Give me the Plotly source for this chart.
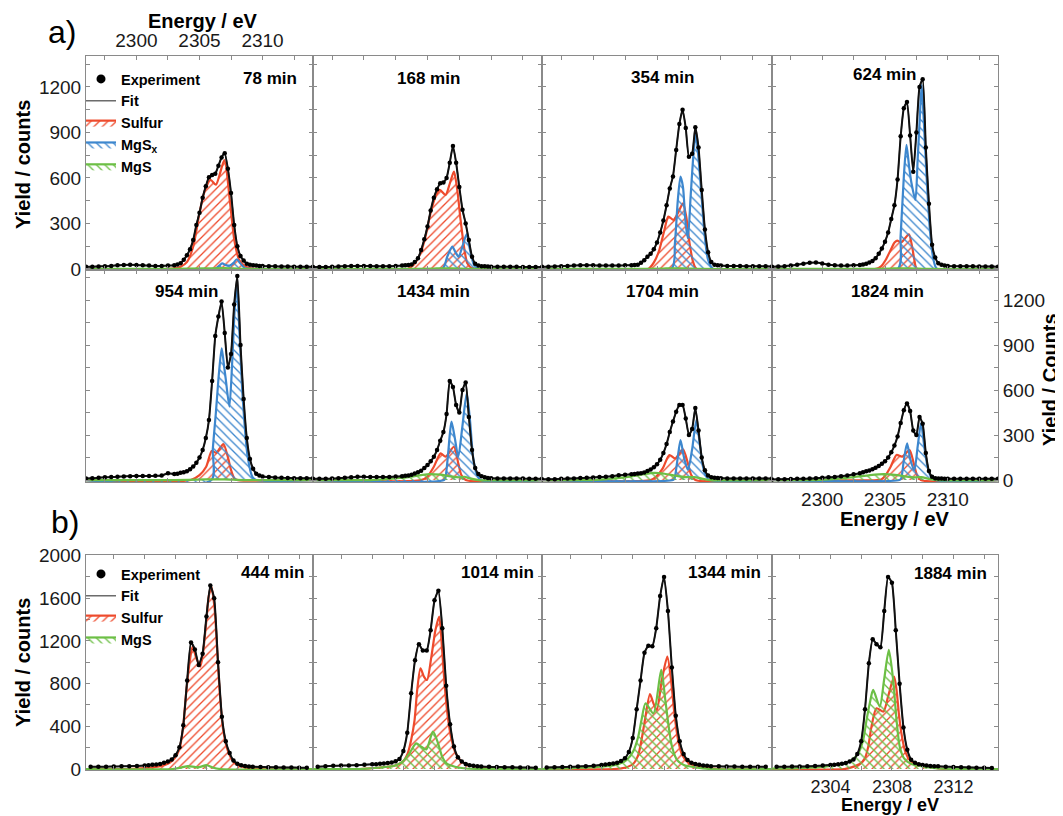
import plotly.graph_objects as go

# ======================= DATA =======================
# energy grids of the measured spectra (eV)
E_A = [2296.0, 2296.5, 2297.0, 2297.5, 2298.0, 2298.5, 2299.0, 2299.5, 2300.0, 2300.5,
       2301.0, 2301.5, 2302.0, 2302.5, 2303.0,
       2303.25, 2303.5, 2303.75, 2304.0, 2304.25, 2304.5, 2304.75, 2305.0, 2305.25, 2305.5,
       2305.75, 2306.0, 2306.25, 2306.5, 2306.75, 2307.0, 2307.25, 2307.5, 2307.75, 2308.0,
       2308.25, 2308.5, 2308.75, 2309.0, 2309.25, 2309.5, 2309.75, 2310.0,
       2310.5, 2311.0, 2311.5, 2312.0, 2312.5, 2313.0, 2313.5, 2314.0]
E_B = [2300.5, 2301.0, 2301.5, 2302.0, 2302.5, 2303.0, 2303.5, 2304.0,
       2304.25, 2304.5, 2304.75, 2305.0, 2305.25, 2305.5, 2305.75, 2306.0, 2306.25, 2306.5,
       2306.75, 2307.0, 2307.25, 2307.5, 2307.75, 2308.0, 2308.25, 2308.5, 2308.75, 2309.0,
       2309.25, 2309.5, 2309.75, 2310.0, 2310.25, 2310.5, 2310.75, 2311.0,
       2311.5, 2312.0, 2312.5, 2313.0, 2313.5, 2314.0, 2314.5]

# experiment (counts) on E_A -- part a)
EXP_78 = [14, 15, 16, 18, 20, 24, 26, 27, 26, 24, 22, 20, 20, 22, 25,
          30, 38, 60, 90, 130, 190, 290, 370, 470, 545, 605, 620, 628, 680, 735, 762, 660, 500,
          290, 150, 85, 55, 35, 28, 24, 22, 20, 19,
          18, 17, 16, 16, 15, 15, 14, 14]
EXP_168 = [12, 12, 13, 14, 16, 18, 20, 20, 20, 19, 18, 18, 18, 20, 22,
           24, 26, 30, 45, 70, 125, 195, 280, 385, 470, 525, 565, 570, 600, 700, 810, 700, 540,
           390, 300, 190, 80, 35, 22, 18, 17, 16, 15,
           15, 14, 14, 14, 13, 13, 13, 13]
EXP_354 = [15, 15, 16, 18, 20, 22, 24, 24, 24, 22, 22, 22, 22, 24, 25,
           26, 28, 40, 58, 80, 100, 130, 175, 240, 320, 420, 530, 610, 785, 955, 1050, 930, 740,
           760, 935, 800, 520, 260, 110, 45, 28, 24, 22,
           20, 20, 19, 18, 18, 17, 17, 16]
EXP_624 = [15, 16, 18, 22, 28, 34, 40, 42, 36, 28, 24, 22, 22, 24, 26,
           30, 35, 42, 52, 70, 100, 135, 180, 240, 330, 420, 590, 875, 1060, 1100, 880, 640, 900,
           1200, 1250, 800, 430, 160, 75, 38, 28, 22, 20,
           18, 18, 17, 17, 16, 16, 16, 15]
EXP_954 = [11, 12, 15, 18, 20, 22, 24, 26, 27, 27, 27, 28, 30, 45, 40,
           42, 48, 52, 58, 72, 90, 115, 150, 200, 280, 400, 660, 960, 1090, 1190, 980, 750, 840,
           1170, 1360, 900, 540, 280, 140, 75, 42, 30, 24,
           20, 17, 15, 14, 12, 12, 12, 12]
EXP_1434 = [8, 8, 9, 10, 12, 15, 18, 22, 22, 20, 20, 20, 21, 23, 26,
            28, 31, 36, 44, 52, 62, 80, 100, 125, 156, 200, 262, 320, 440, 660, 620, 500, 450,
            600, 650, 420, 200, 80, 40, 25, 18, 14, 12,
            11, 10, 10, 10, 10, 9, 9, 9]
EXP_1704 = [5, 5, 6, 8, 10, 11, 13, 15, 17, 20, 22, 26, 32, 35, 38,
            40, 43, 46, 50, 60, 70, 85, 105, 135, 180, 240, 320, 390, 455, 500, 500, 410, 300,
            340, 480, 330, 150, 65, 30, 18, 15, 13, 12,
            11, 10, 10, 10, 10, 10, 10, 10]
EXP_1824 = [4, 5, 6, 7, 8, 9, 10, 12, 15, 18, 21, 25, 30, 38, 45,
            52, 58, 64, 72, 82, 94, 108, 125, 150, 185, 230, 290, 380, 465, 510, 460, 330, 300,
            420, 375, 180, 60, 22, 12, 10, 10, 9, 9,
            9, 9, 9, 8, 8, 8, 8, 8]

# experiment (counts) on E_B -- part b)
EXP_444 = [22, 22, 22, 24, 25, 27, 29, 33,
           36, 40, 43, 48, 58, 70, 90, 130, 205, 410, 830, 1185, 1120, 975, 1080, 1430, 1720,
           1600, 1000, 490, 260, 150, 80, 50, 35, 28, 24, 21,
           19, 17, 16, 15, 14, 13, 12]
EXP_1014 = [22, 27, 30, 32, 34, 36, 40, 44,
            46, 50, 53, 56, 62, 72, 95, 170, 340, 710, 1020, 1170, 1110, 1110, 1300, 1580, 1670,
            1320, 780, 420, 210, 110, 70, 48, 36, 30, 26, 24,
            21, 19, 17, 16, 15, 14, 13]
EXP_1344 = [14, 16, 19, 21, 24, 26, 30, 38,
            42, 47, 52, 58, 75, 100, 160, 290, 560, 830, 1090, 1155, 1150, 1320, 1620, 1800, 1480,
            950, 500, 260, 140, 85, 60, 48, 40, 34, 30, 27,
            25, 24, 23, 22, 22, 22, 22]
EXP_1884 = [22, 22, 23, 24, 25, 28, 32, 38,
            41, 44, 50, 57, 70, 90, 140, 260, 560, 990, 1215, 1170, 1140, 1480, 1800, 1745, 1300,
            800, 390, 180, 88, 58, 45, 38, 33, 29, 27, 25,
            22, 20, 17, 15, 13, 11, 10]

# fitted components: energies (eV) and yields (counts) read at key points
S78_E = [2296, 2302.5, 2303.5, 2304.0, 2304.5, 2305.0, 2305.4, 2305.87, 2306.3, 2306.97, 2307.4, 2307.76, 2308.15, 2308.7, 2309.5, 2314]
S78_Y = [0, 0, 15, 45, 147, 369, 510, 587, 555, 718, 455, 191, 59, 15, 0, 0]
X78_E = [2296, 2306.2, 2306.55, 2306.8, 2307.1, 2307.4, 2307.7, 2307.95, 2308.25, 2308.6, 2309.0, 2314]
X78_Y = [0, 0, 20, 37, 25, 22, 40, 64, 35, 5, 0, 0]
M78_E = [2296, 2303.0, 2305.5, 2307.0, 2308.5, 2314]
M78_Y = [0, 0, 4, 6, 0, 0]

S168_E = [2296, 2303.4, 2303.9, 2304.45, 2304.84, 2305.24, 2305.63, 2305.97, 2306.42, 2306.76, 2307.08, 2307.34, 2307.6, 2307.87, 2308.13, 2308.5, 2309.0, 2314]
S168_Y = [0, 0, 26, 103, 213, 367, 477, 521, 488, 565, 642, 521, 323, 147, 37, 4, 0, 0]
X168_E = [2296, 2306.16, 2306.55, 2306.95, 2307.2, 2307.45, 2307.66, 2308.08, 2308.34, 2308.66, 2309.05, 2314]
X168_Y = [0, 0, 81, 147, 110, 80, 125, 229, 125, 26, 0, 0]
M168_E = [2296, 2303.0, 2305.5, 2307.0, 2308.5, 2314]
M168_Y = [0, 0, 3, 4, 0, 0]

S354_E = [2296, 2304.3, 2304.79, 2305.18, 2305.58, 2305.89, 2306.29, 2306.63, 2307.03, 2307.29, 2307.55, 2307.82, 2308.1, 2314]
S354_Y = [0, 0, 48, 125, 257, 345, 323, 367, 433, 345, 169, 48, 0, 0]
X354_E = [2296, 2306.13, 2306.4, 2306.63, 2306.84, 2307.03, 2307.24, 2307.42, 2307.63, 2307.84, 2308.03, 2308.21, 2308.47, 2308.74, 2309.0, 2309.4, 2314]
X354_Y = [0, 0, 169, 455, 609, 543, 301, 202, 477, 741, 894, 763, 499, 213, 59, 0, 0]
M354_E = [2296, 2303.0, 2305.5, 2307.0, 2308.5, 2314]
M354_Y = [0, 0, 3, 4, 0, 0]

S624_E = [2296, 2304.3, 2304.66, 2305.05, 2305.45, 2305.76, 2305.97, 2306.3, 2306.9, 2307.16, 2307.34, 2307.55, 2314]
S624_Y = [0, 0, 15, 59, 125, 174, 187, 176, 228, 147, 59, 0, 0]
X624_E = [2296, 2306.02, 2306.24, 2306.5, 2306.71, 2306.9, 2307.1, 2307.42, 2307.6, 2307.78, 2307.92, 2308.1, 2308.34, 2308.6, 2308.87, 2309.15, 2314]
X624_Y = [0, 0, 213, 609, 818, 690, 570, 455, 720, 1010, 1213, 960, 565, 235, 59, 0, 0]
M624_E = [2296, 2303.0, 2305.5, 2307.0, 2308.5, 2314]
M624_Y = [0, 0, 3, 4, 0, 0]

S954_E = [2296, 2304.3, 2305.0, 2305.53, 2305.97, 2306.32, 2306.89, 2307.24, 2307.5, 2307.76, 2308.05, 2314]
S954_Y = [0, 0, 33, 89, 193, 182, 240, 156, 67, 11, 0, 0]
X954_E = [2296, 2305.95, 2306.05, 2306.3, 2306.55, 2306.76, 2306.95, 2307.08, 2307.37, 2307.6, 2307.8, 2307.97, 2308.16, 2308.42, 2308.82, 2309.2, 2309.5, 2314]
X954_Y = [0, 0, 200, 450, 720, 878, 760, 674, 489, 800, 1150, 1300, 1000, 556, 156, 20, 0, 0]
M954_E = [2296, 2303.0, 2305.5, 2307.0, 2308.5, 2314]
M954_Y = [0, 0, 4, 5, 0, 0]

S1434_E = [2296, 2304.5, 2304.97, 2305.5, 2306.03, 2306.42, 2307.08, 2307.42, 2307.66, 2308.0, 2314]
S1434_Y = [0, 0, 22, 89, 178, 156, 222, 111, 33, 0, 0]
X1434_E = [2296, 2306.3, 2306.42, 2306.6, 2306.76, 2306.89, 2307.13, 2307.42, 2307.74, 2308.08, 2308.34, 2308.58, 2308.84, 2309.18, 2314]
X1434_Y = [0, 0, 22, 156, 311, 389, 289, 156, 356, 578, 400, 156, 44, 0, 0]
M1434_E = [2296, 2300.5, 2302.0, 2303.5, 2304.5, 2305.2, 2306.0, 2306.8, 2307.5, 2307.9, 2308.3, 2309.0, 2314]
M1434_Y = [0, 0, 8, 20, 33, 40, 36, 25, 18, 22, 12, 0, 0]

S1704_E = [2296, 2304.5, 2304.92, 2305.45, 2305.97, 2306.42, 2307.03, 2307.42, 2307.68, 2308.0, 2314]
S1704_Y = [0, 0, 22, 78, 167, 144, 204, 111, 33, 0, 0]
X1704_E = [2296, 2306.25, 2306.37, 2306.58, 2306.84, 2307.1, 2307.42, 2307.74, 2308.08, 2308.34, 2308.6, 2308.87, 2309.13, 2314]
X1704_Y = [0, 0, 11, 122, 267, 156, 67, 200, 400, 244, 89, 22, 0, 0]
M1704_E = [2296, 2299.8, 2301.5, 2303.0, 2304.0, 2304.8, 2305.6, 2306.4, 2307.2, 2307.9, 2308.6, 2309.2, 2314]
M1704_Y = [0, 0, 10, 25, 40, 48, 42, 30, 20, 20, 8, 0, 0]

S1824_E = [2296, 2304.4, 2304.71, 2305.05, 2305.45, 2305.92, 2306.37, 2306.95, 2307.29, 2307.55, 2307.85, 2314]
S1824_Y = [0, 0, 4, 33, 89, 167, 156, 200, 111, 33, 0, 0]
X1824_E = [2296, 2306.15, 2306.29, 2306.5, 2306.76, 2307.03, 2307.34, 2307.6, 2307.87, 2308.13, 2308.39, 2308.66, 2308.95, 2314]
X1824_Y = [0, 0, 11, 133, 244, 133, 67, 222, 378, 222, 89, 22, 0, 0]
M1824_E = [2296, 2299.5, 2301.0, 2302.5, 2303.8, 2304.9, 2305.8, 2306.6, 2307.4, 2307.9, 2308.5, 2309.2, 2314]
M1824_Y = [0, 0, 8, 20, 33, 40, 35, 25, 18, 20, 8, 0, 0]

S444_E = [2300.2, 2303.0, 2304.0, 2304.85, 2305.5, 2305.94, 2306.26, 2306.48, 2306.69, 2306.91, 2307.1, 2307.34, 2307.6, 2307.78, 2308.0, 2308.15, 2308.32, 2308.53, 2308.7, 2308.86, 2309.07, 2309.4, 2309.83, 2310.5, 2311.5, 2314.9]
S444_Y = [0, 0, 8, 22, 50, 100, 190, 380, 720, 1000, 1147, 1040, 959, 1090, 1400, 1620, 1709, 1500, 1100, 720, 380, 165, 55, 15, 0, 0]
M444_E = [2300.2, 2305.8, 2306.4, 2306.8, 2307.3, 2307.6, 2308.0, 2308.4, 2308.9, 2314.9]
M444_Y = [0, 0, 15, 28, 18, 20, 37, 15, 0, 0]

S1014_E = [2300.2, 2303.2, 2304.33, 2305.42, 2305.96, 2306.28, 2306.5, 2306.72, 2306.89, 2307.1, 2307.32, 2307.52, 2307.8, 2308.06, 2308.3, 2308.49, 2308.66, 2308.88, 2309.1, 2309.36, 2309.75, 2310.4, 2311.7, 2313.0, 2314.9]
S1014_Y = [0, 0, 12, 31, 69, 147, 272, 459, 741, 944, 866, 834, 1053, 1303, 1428, 1116, 772, 459, 272, 147, 69, 31, 12, 0, 0]
M1014_E = [2300.2, 2303.2, 2304.33, 2305.42, 2305.96, 2306.39, 2306.82, 2307.15, 2307.47, 2307.9, 2308.23, 2308.49, 2308.77, 2309.31, 2310.0, 2314.9]
M1014_Y = [0, 0, 12, 31, 69, 147, 241, 209, 184, 350, 241, 116, 53, 22, 5, 0]

S1344_E = [2300.2, 2304.8, 2305.48, 2306.02, 2306.35, 2306.56, 2306.78, 2307.1, 2307.32, 2307.54, 2307.86, 2308.21, 2308.47, 2308.66, 2308.9, 2309.16, 2309.6, 2310.25, 2311.5, 2314.9]
S1344_Y = [0, 0, 12, 47, 131, 272, 459, 703, 616, 553, 834, 1053, 803, 522, 272, 131, 53, 22, 0, 0]
M1344_E = [2300.2, 2302.23, 2303.97, 2305.05, 2305.59, 2306.02, 2306.35, 2306.56, 2306.82, 2307.32, 2307.82, 2308.08, 2308.3, 2308.51, 2308.84, 2309.27, 2310.03, 2311.0, 2314.9]
M1344_Y = [0, 9, 22, 44, 84, 163, 303, 459, 616, 522, 928, 647, 397, 209, 84, 38, 16, 0, 0]

S1884_E = [2300.2, 2304.9, 2305.37, 2305.91, 2306.24, 2306.46, 2306.67, 2307.0, 2307.45, 2307.75, 2308.14, 2308.3, 2308.45, 2308.62, 2308.84, 2309.16, 2309.7, 2310.57, 2311.5, 2314.9]
S1884_Y = [0, 0, 16, 47, 100, 209, 397, 569, 538, 678, 866, 741, 522, 334, 178, 84, 38, 16, 0, 0]
M1884_E = [2300.2, 2301.91, 2303.64, 2304.72, 2305.37, 2305.81, 2306.13, 2306.35, 2306.56, 2306.78, 2307.21, 2307.49, 2307.8, 2308.08, 2308.3, 2308.51, 2308.79, 2309.27, 2310.13, 2311.0, 2314.9]
M1884_Y = [3, 9, 22, 47, 84, 147, 272, 459, 616, 741, 584, 834, 1116, 834, 459, 209, 100, 47, 22, 5, 0]

LABELS_A = ["78 min", "168 min", "354 min", "624 min", "954 min", "1434 min", "1704 min", "1824 min"]
LABELS_B = ["444 min", "1014 min", "1344 min", "1884 min"]

# ======================= STYLE / LAYOUT =======================
# the page body adds an 8 px margin, so the figure is drawn 8 px smaller and
# every reference pixel position is shifted by that offset
OFF = 8
W, H = 1063 - OFF, 816 - OFF
FONT = "Liberation Sans"
RED, BLUE, GREEN = "#EE4A2C", "#3D87CE", "#6CBF45"
FRAME = "#8a8a8a"
KIND = {
    "S": dict(color=RED, shape="/", name="<b>Sulfur</b>", rank=3),
    "X": dict(color=BLUE, shape="\\", name="<b>MgS<sub>x</sub></b>", rank=4),
    "M": dict(color=GREEN, shape="\\", name="<b>MgS</b>", rank=5),
}
COLS = [(86, 313), (313, 542), (542, 772), (772, 998)]
ROWS_A = [(56, 270), (270, 482)]
ROW_B = (555, 770)


def fx(p):
    return (p - OFF) / W


def fy(p):
    return 1 - (p - OFF) / H


panels = [
    ("a", LABELS_A[0], E_A, EXP_78, [("S", S78_E, S78_Y), ("X", X78_E, X78_Y), ("M", M78_E, M78_Y)]),
    ("a", LABELS_A[1], E_A, EXP_168, [("S", S168_E, S168_Y), ("X", X168_E, X168_Y), ("M", M168_E, M168_Y)]),
    ("a", LABELS_A[2], E_A, EXP_354, [("S", S354_E, S354_Y), ("X", X354_E, X354_Y), ("M", M354_E, M354_Y)]),
    ("a", LABELS_A[3], E_A, EXP_624, [("S", S624_E, S624_Y), ("X", X624_E, X624_Y), ("M", M624_E, M624_Y)]),
    ("a", LABELS_A[4], E_A, EXP_954, [("S", S954_E, S954_Y), ("X", X954_E, X954_Y), ("M", M954_E, M954_Y)]),
    ("a", LABELS_A[5], E_A, EXP_1434, [("S", S1434_E, S1434_Y), ("X", X1434_E, X1434_Y), ("M", M1434_E, M1434_Y)]),
    ("a", LABELS_A[6], E_A, EXP_1704, [("S", S1704_E, S1704_Y), ("X", X1704_E, X1704_Y), ("M", M1704_E, M1704_Y)]),
    ("a", LABELS_A[7], E_A, EXP_1824, [("S", S1824_E, S1824_Y), ("X", X1824_E, X1824_Y), ("M", M1824_E, M1824_Y)]),
    ("b", LABELS_B[0], E_B, EXP_444, [("S", S444_E, S444_Y), ("M", M444_E, M444_Y)]),
    ("b", LABELS_B[1], E_B, EXP_1014, [("S", S1014_E, S1014_Y), ("M", M1014_E, M1014_Y)]),
    ("b", LABELS_B[2], E_B, EXP_1344, [("S", S1344_E, S1344_Y), ("M", M1344_E, M1344_Y)]),
    ("b", LABELS_B[3], E_B, EXP_1884, [("S", S1884_E, S1884_Y), ("M", M1884_E, M1884_Y)]),
]

fig = go.Figure()
annotations = []
layout = {}

tickfont = dict(family=FONT, size=19, color="#1a1a1a")
label_pos = {
    0: (270, 79), 1: (428, 79), 2: (662, 78), 3: (884, 75),
    4: (186, 291), 5: (433, 291), 6: (662, 291), 7: (887, 291),
    8: (272, 572), 9: (497, 572), 10: (724, 572), 11: (950, 573),
}

for i, (part, label, E, exp, comps) in enumerate(panels):
    n = i + 1
    xa = "x" if n == 1 else f"x{n}"
    ya = "y" if n == 1 else f"y{n}"
    if part == "a":
        row, col = divmod(i, 4)
        ytop, ybot = ROWS_A[row]
        yr = [-7, 1404] if row == 0 else [-13, 1400]
        xr = [2296, 2314]
        xmaj, x0, xmin = 5, 2300, 2.5
        ymaj, ymin = 300, 150
        leg = "legend"
        first = i == 0
    else:
        col = i - 8
        ytop, ybot = ROW_B
        yr = [-9, 2005]
        xr = [2300.2, 2314.9]
        xmaj, x0, xmin = 4, 2304, 2
        ymaj, ymin = 400, 200
        leg = "legend2"
        first = i == 8
    xl, xrpx = COLS[col]

    for kind, ce, cy in comps:
        k = KIND[kind]
        fig.add_trace(go.Scatter(
            x=ce, y=cy, mode="lines", xaxis=xa, yaxis=ya,
            line=dict(color=k["color"], width=2.2, shape="spline", smoothing=0.7),
            fill="tozeroy", fillcolor="rgba(0,0,0,0)",
            fillpattern=dict(shape=k["shape"], fgcolor=k["color"], bgcolor="rgba(255,255,255,0)",
                             size=6, solidity=0.22, fillmode="replace"),
            name=k["name"], showlegend=first, legend=leg, legendrank=k["rank"],
            hoverinfo="skip"))
    fig.add_trace(go.Scatter(
        x=E, y=exp, mode="lines", xaxis=xa, yaxis=ya,
        line=dict(color="#606060", width=1.4, shape="spline", smoothing=0.5),
        name="<b>Fit</b>", showlegend=False))
    # measured points: dense dotted band (points joined by a thin dark trace)
    fig.add_trace(go.Scatter(
        x=E, y=exp, mode="lines+markers", xaxis=xa, yaxis=ya,
        line=dict(color="#111111", width=2.0, shape="spline", smoothing=0.5),
        marker=dict(size=4.5, color="black"),
        name="<b>Experiment</b>", showlegend=False))
    if first:
        fig.add_trace(go.Scatter(
            x=[None], y=[None], mode="markers", xaxis=xa, yaxis=ya,
            marker=dict(size=9, color="black"),
            name="<b>Experiment</b>", legend=leg, legendrank=1))
        fig.add_trace(go.Scatter(
            x=[None], y=[None], mode="lines", xaxis=xa, yaxis=ya,
            line=dict(color="#606060", width=1.4),
            name="<b>Fit</b>", legend=leg, legendrank=2))

    show_x = (i == 0) or (i == 7) or (i == 11)
    xside = "top" if i == 0 else "bottom"
    show_y = (i == 0) or (i == 7) or (i == 8)
    yside = "right" if i == 7 else "left"
    common = dict(showline=True, linecolor=FRAME, linewidth=1, mirror="ticks",
                  ticks="inside", ticklen=4, tickwidth=1, tickcolor=FRAME,
                  showgrid=False, zeroline=False, tickfont=tickfont, automargin=False)
    xfont = dict(tickfont, size=18) if i == 11 else tickfont
    layout["xaxis" if n == 1 else f"xaxis{n}"] = dict(
        common, domain=[fx(xl), fx(xrpx)], range=xr, anchor=ya,
        tick0=x0, dtick=xmaj, side=xside, showticklabels=show_x, tickfont=xfont,
        minor=dict(ticks="inside", dtick=xmin, tick0=x0, ticklen=4, tickcolor=FRAME))
    layout["yaxis" if n == 1 else f"yaxis{n}"] = dict(
        common, domain=[fy(ybot), fy(ytop)], range=yr, anchor=xa,
        tick0=0, dtick=ymaj, side=yside, showticklabels=show_y,
        minor=dict(ticks="inside", dtick=ymin, tick0=0, ticklen=4, tickcolor=FRAME))

    lx, ly = label_pos[i]
    annotations.append(dict(x=fx(lx), y=fy(ly), xref="paper", yref="paper", showarrow=False,
                            text=f"<b>{label}</b>", xanchor="center", yanchor="middle",
                            font=dict(family=FONT, size=17, color="black")))

for (x, y, t, ang, sz) in [
    (203, 21, "<b>Energy / eV</b>", 0, 20),
    (895, 519, "<b>Energy / eV</b>", 0, 20),
    (890, 805, "<b>Energy / eV</b>", 0, 18),
    (23, 165, "<b>Yield / counts</b>", -90, 20),
    (23, 663, "<b>Yield / counts</b>", -90, 20),
    (1050, 380, "<b>Yield / Counts</b>", -90, 20),
]:
    annotations.append(dict(x=fx(x), y=fy(y), xref="paper", yref="paper", showarrow=False,
                            text=t, textangle=ang, xanchor="center", yanchor="middle",
                            font=dict(family=FONT, size=sz, color="black")))
for (x, y, t) in [(62, 32, "a)"), (65, 522, "b)")]:
    annotations.append(dict(x=fx(x), y=fy(y), xref="paper", yref="paper", showarrow=False,
                            text=t, xanchor="center", yanchor="middle",
                            font=dict(family=FONT, size=32, color="black")))

legend_common = dict(xanchor="left", yanchor="top", bgcolor="rgba(0,0,0,0)",
                     font=dict(family=FONT, size=14.5, color="black"), itemwidth=30,
                     tracegroupgap=0, traceorder="normal")
layout["legend"] = dict(legend_common, x=fx(81), y=fy(63))
layout["legend2"] = dict(legend_common, x=fx(81), y=fy(558))

fig.update_layout(
    width=W, height=H, autosize=False,
    margin=dict(l=0, r=0, t=0, b=0, pad=0, autoexpand=False),
    paper_bgcolor="white", plot_bgcolor="white",
    annotations=annotations, showlegend=True,
    **layout)

fig.write_html("out.html")
